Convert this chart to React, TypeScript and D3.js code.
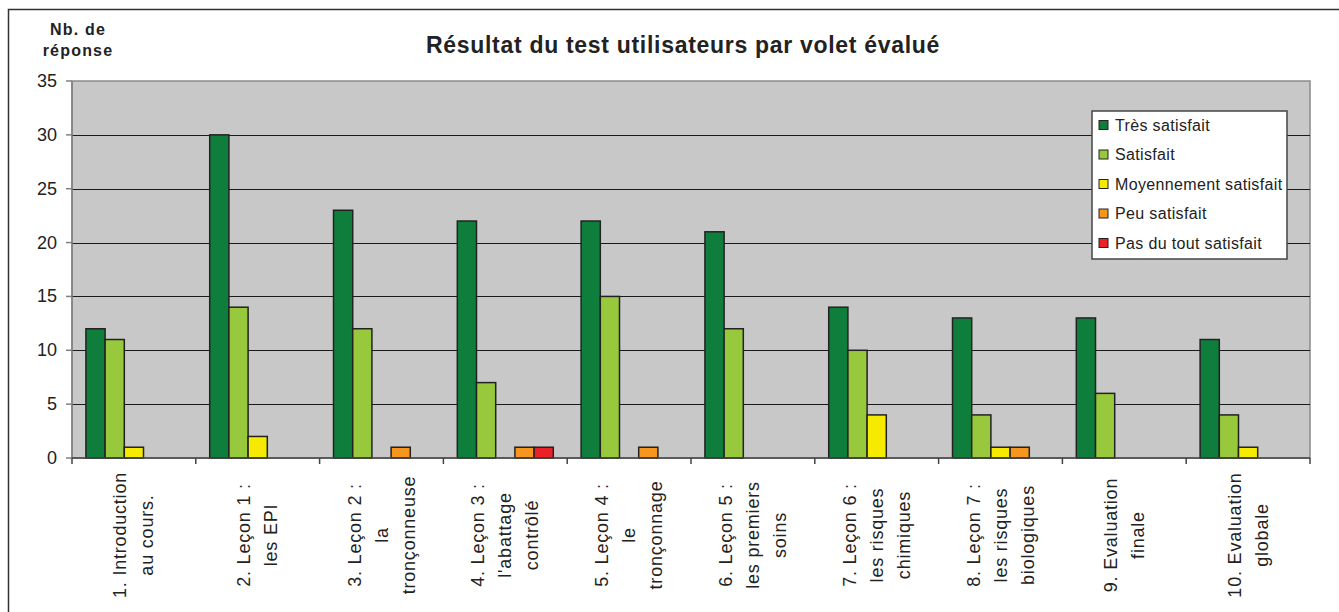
import React from "react";
import * as d3 from "d3";

const categories: string[][] = [
  ["1. Introduction", "au cours."],
  ["2. Leçon 1 :", "les EPI"],
  ["3. Leçon 2 :", "la", "tronçonneuse"],
  ["4. Leçon 3 :", "l'abattage", "contrôlé"],
  ["5. Leçon 4 :", "le", "tronçonnage"],
  ["6. Leçon 5 :", "les premiers", "soins"],
  ["7. Leçon 6 :", "les risques", "chimiques"],
  ["8. Leçon 7 :", "les risques", "biologiques"],
  ["9. Evaluation", "finale"],
  ["10. Evaluation", "globale"],
];

const seriesNames = [
  "Très satisfait",
  "Satisfait",
  "Moyennement satisfait",
  "Peu satisfait",
  "Pas du tout satisfait",
];
const seriesColors = ["#0F7E3C", "#98C83C", "#F5EA00", "#F7961F", "#EC2127"];

const tresSatisfait = [12, 30, 23, 22, 22, 21, 14, 13, 13, 11];
const satisfait = [11, 14, 12, 7, 15, 12, 10, 4, 6, 4];
const moyennement = [1, 2, 0, 0, 0, 0, 4, 1, 0, 1];
const peuSatisfait = [0, 0, 1, 1, 1, 0, 0, 1, 0, 0];
const pasDuTout = [0, 0, 0, 1, 0, 0, 0, 0, 0, 0];
const seriesValues = [tresSatisfait, satisfait, moyennement, peuSatisfait, pasDuTout];

const yTicks = [0, 5, 10, 15, 20, 25, 30, 35];

const title = "Résultat du test utilisateurs par volet évalué";
const yTitle = ["Nb. de", "réponse"];

const FONT = "'Liberation Sans', Arial, sans-serif";

export default function App() {
  const W = 1339;
  const H = 612;
  const plot = { left: 72, right: 1310, top: 81, bottom: 458 };

  const x = d3
    .scaleBand<number>()
    .domain(categories.map((_, i) => i))
    .range([plot.left, plot.right])
    .paddingInner(0)
    .paddingOuter(0);
  const xs = d3
    .scaleBand<number>()
    .domain(seriesNames.map((_, i) => i))
    .range([0, x.bandwidth()])
    .paddingInner(0)
    .paddingOuter(0.725);
  const y = d3.scaleLinear().domain([0, 35]).range([plot.bottom, plot.top]);

  const boundaries = d3.range(categories.length + 1).map((i) =>
    i < categories.length ? (x(i) as number) : plot.right
  );

  const legend = { x: 1092, y: 111, w: 195, h: 148 };
  const rowH = 29.5;

  return (
    <svg
      width={W}
      height={H}
      style={{ position: "absolute", left: 0, top: 0, background: "#fff" }}
      fontFamily={FONT}
    >
      <rect x={0} y={0} width={W} height={H} fill="#fff" />
      {/* outer frame */}
      <path d={`M8.5,${H} L8.5,9.5 L${W},9.5`} fill="none" stroke="#333" strokeWidth={1.5} />

      {/* plot area */}
      <rect
        x={plot.left}
        y={plot.top}
        width={plot.right - plot.left}
        height={plot.bottom - plot.top}
        fill="#C8C8C8"
        stroke="#8a8a8a"
        strokeWidth={1.5}
      />
      {/* gridlines */}
      {yTicks
        .filter((t) => t > 0 && t < 35)
        .map((t) => (
          <line
            key={t}
            x1={plot.left}
            x2={plot.right}
            y1={Math.round(y(t)) + 0.5}
            y2={Math.round(y(t)) + 0.5}
            stroke="#1a1a1a"
            strokeWidth={1}
          />
        ))}

      {/* bars */}
      {categories.map((_, ci) =>
        seriesValues.map((vals, si) => {
          const v = vals[ci];
          if (!v) return null;
          const bx = (x(ci) as number) + (xs(si) as number);
          return (
            <rect
              key={`${ci}-${si}`}
              x={bx}
              y={y(v)}
              width={xs.bandwidth()}
              height={y(0) - y(v)}
              fill={seriesColors[si]}
              stroke="#222"
              strokeWidth={1.5}
            />
          );
        })
      )}

      {/* y axis */}
      <line x1={plot.left} x2={plot.left} y1={plot.top} y2={plot.bottom} stroke="#808080" strokeWidth={1.5} />
      {yTicks.map((t) => (
        <g key={t}>
          <line x1={plot.left - 6} x2={plot.left} y1={y(t)} y2={y(t)} stroke="#808080" strokeWidth={1.5} />
          <text
            x={57}
            y={y(t)}
            textAnchor="end"
            dominantBaseline="central"
            fontSize={18}
            fill="#222"
          >
            {t}
          </text>
        </g>
      ))}

      {/* x axis */}
      <line x1={plot.left} x2={plot.right} y1={plot.bottom} y2={plot.bottom} stroke="#444" strokeWidth={1.5} />
      {boundaries.map((bx, i) => (
        <line key={i} x1={bx} x2={bx} y1={plot.bottom} y2={plot.bottom + 6} stroke="#444" strokeWidth={1.5} />
      ))}
      {categories.map((lines, ci) => {
        const cx = (x(ci) as number) + x.bandwidth() / 2;
        return (
          <text
            key={ci}
            transform={`translate(${cx},535) rotate(-90)`}
            textAnchor="middle"
            fontSize={18}
            letterSpacing={0.8}
            fill="#222"
          >
            {lines.map((ln, li) => (
              <tspan
                key={li}
                x={0}
                y={(li - (lines.length - 1) / 2) * 27}
                dominantBaseline="central"
              >
                {ln}
              </tspan>
            ))}
          </text>
        );
      })}

      {/* titles */}
      <text
        x={683}
        y={45}
        textAnchor="middle"
        dominantBaseline="central"
        fontSize={23}
        fontWeight="bold"
        letterSpacing={0.7}
        fill="#222"
      >
        {title}
      </text>
      {yTitle.map((t, i) => (
        <text
          key={i}
          x={78}
          y={29 + i * 21}
          textAnchor="middle"
          dominantBaseline="central"
          fontSize={16}
          fontWeight="bold"
          letterSpacing={1.2}
          fill="#222"
        >
          {t}
        </text>
      ))}

      {/* legend */}
      <rect
        x={legend.x}
        y={legend.y}
        width={legend.w}
        height={legend.h}
        fill="#fff"
        stroke="#444"
        strokeWidth={1.5}
      />
      {seriesNames.map((name, i) => {
        const cy = legend.y + 14 + i * rowH;
        return (
          <g key={name}>
            <rect x={1099} y={cy - 4.5} width={9} height={9} fill={seriesColors[i]} stroke="#222" strokeWidth={1} />
            <text x={1115} y={cy} dominantBaseline="central" fontSize={16} letterSpacing={0.35} fill="#222">
              {name}
            </text>
          </g>
        );
      })}
    </svg>
  );
}
